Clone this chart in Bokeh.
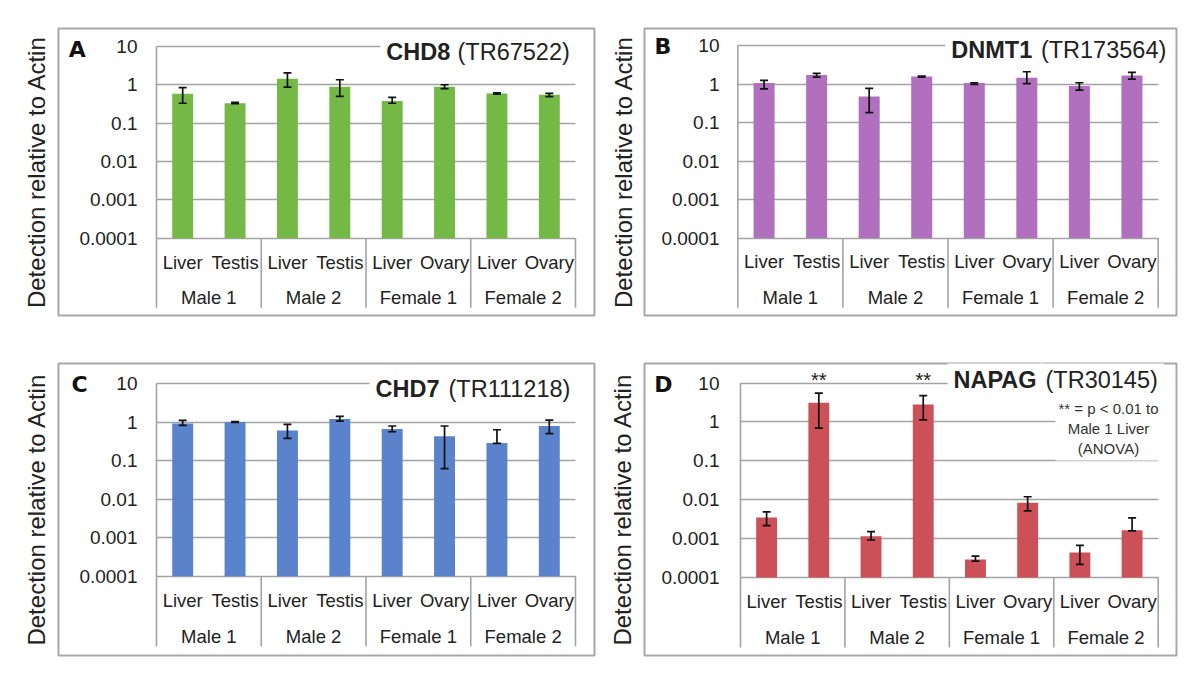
from bokeh.plotting import figure
from bokeh.models import Range1d, FixedTicker, Label, Whisker, TeeHead, ColumnDataSource
from bokeh.layouts import column, row
from bokeh.embed import file_html
from bokeh.resources import INLINE
from bokeh.core.properties import value

# ---------------- data ----------------
tissues = ["Liver", "Testis", "Liver", "Testis", "Liver", "Ovary", "Liver", "Ovary"]
groups = ["Male 1", "Male 2", "Female 1", "Female 2"]
y_ticks = [0.0001, 0.001, 0.01, 0.1, 1, 10]
y_tick_labels = ["0.0001", "0.001", "0.01", "0.1", "1", "10"]
y_title = "Detection relative to Actin"

chd8_mean = [0.58, 0.33, 1.43, 0.89, 0.38, 0.89, 0.59, 0.55]
chd8_upper = [0.84, 0.35, 2.05, 1.35, 0.47, 1.00, 0.62, 0.60]
chd8_lower = [0.33, 0.32, 0.87, 0.50, 0.33, 0.79, 0.57, 0.49]

dnmt1_mean = [1.09, 1.75, 0.48, 1.61, 1.09, 1.49, 0.90, 1.71]
dnmt1_upper = [1.27, 1.93, 0.79, 1.65, 1.10, 2.13, 1.10, 2.05]
dnmt1_lower = [0.76, 1.55, 0.185, 1.55, 1.00, 1.04, 0.71, 1.37]

chd7_mean = [0.92, 1.00, 0.60, 1.20, 0.66, 0.43, 0.285, 0.79]
chd7_upper = [1.10, 1.02, 0.87, 1.40, 0.79, 0.79, 0.63, 1.12]
chd7_lower = [0.82, 0.98, 0.375, 1.06, 0.56, 0.062, 0.28, 0.50]

napag_mean = [0.00347, 3.1, 0.00115, 2.81, 0.000292, 0.0083, 0.000442, 0.00165]
napag_upper = [0.00486, 5.5, 0.00151, 4.71, 0.000356, 0.0119, 0.00067, 0.0034]
napag_lower = [0.00216, 0.69, 0.00092, 1.13, 0.000264, 0.00516, 0.000217, 0.00158]
napag_sig = ["", "**", "", "**", "", "", "", ""]
napag_note = "** = p < 0.01 to\nMale 1 Liver\n(ANOVA)"

# ---------------- style ----------------
FONT = "Liberation Sans"
TEXT = "#222222"
GRID = "#a3a3a3"
BOX = "#a8a8a8"
TICK_PX = 19
PAD = 6


def make_panel(letter, gene, probe, color, mean, upper, lower, g, sig=None, note=None):
    n = len(tissues)
    W, H = g["W"], g["H"]
    bl, br = g["fl"] - g["ox"], g["ox"] + W - g["fr"]
    bt, bb = g["ft"] - g["oy"], g["oy"] + H - g["fb"]
    cat = (g["x8"] - g["x0"]) / n
    xs0, xe0 = (g["fl"] - g["x0"]) / cat, (g["fr"] - g["x0"]) / cat
    dec = (g["y4"] - g["y10"]) / 5.0
    ymax = 10 ** (1 + (g["y10"] - g["ft"]) / dec)
    ymin = 10 ** (-4 - (g["fb"] - g["y4"]) / dec)

    def below(dpx):
        return 10 ** (-4 - dpx / dec)

    p = figure(width=W, height=H, x_range=Range1d(xs0, xe0), y_range=Range1d(ymin, ymax),
               y_axis_type="log", x_axis_location=None, toolbar_location=None,
               output_backend="svg", min_border_left=bl, min_border_right=br,
               min_border_top=bt, min_border_bottom=bb)
    p.outline_line_color = BOX
    p.outline_line_width = 2
    p.background_fill_color = "white"
    p.border_fill_color = "white"
    p.xgrid.visible = False

    grid = p.ygrid[0]
    if "cross_bounds" in grid.properties():
        grid.ticker = FixedTicker(ticks=y_ticks)
        grid.cross_bounds = (0, n)
        grid.grid_line_color = GRID
        grid.grid_line_width = 1.6
    else:
        grid.visible = False
        p.segment(x0=[0] * len(y_ticks), x1=[n] * len(y_ticks), y0=y_ticks, y1=y_ticks,
                  line_color=GRID, line_width=1.6, level="underlay")

    # y axis: tick labels drawn inside the box, title outside
    label_w = 2.94 * TICK_PX
    standoff = -(g["tick_r"] - g["fl"])
    extent = label_w + standoff
    ax = p.yaxis[0]
    ax.ticker = FixedTicker(ticks=y_ticks)
    ax.major_label_overrides = {t: l for t, l in zip(y_ticks, y_tick_labels)}
    ax.major_tick_out = 0
    ax.major_tick_in = 0
    ax.minor_tick_out = 0
    ax.minor_tick_in = 0
    ax.major_label_standoff = int(round(standoff))
    ax.major_label_text_font = FONT
    ax.major_label_text_font_size = f"{TICK_PX}px"
    ax.major_label_text_color = TEXT
    ax.axis_line_color = None
    ax.axis_label = y_title
    ax.axis_label_text_font = FONT
    ax.axis_label_text_font_size = "24px"
    ax.axis_label_text_font_style = "normal"
    ax.axis_label_text_color = TEXT
    ax.axis_label_standoff = int(round(g["fl"] - g["ylab_c"] - 19.8 - extent))

    sep_bottom = below(70)
    # value-axis line and group separators
    per = n // len(groups)
    bnd = [per * k for k in range(len(groups) + 1)]
    y_top = [y_ticks[-1]] + [y_ticks[0]] * len(groups)
    p.segment(x0=bnd, y0=y_top, x1=bnd, y1=[sep_bottom] * len(bnd),
              line_color=GRID, line_width=1.6)

    xs = [i + 0.5 for i in range(n)]
    src = ColumnDataSource(dict(x=xs, top=mean, upper=upper, lower=lower))
    p.vbar(x="x", width=0.4, bottom=y_ticks[0], top="top", source=src,
           fill_color=color, line_color=None)
    p.add_layout(Whisker(source=src, base="x", upper="upper", lower="lower",
                         line_color="#111111", line_width=1.7, level="annotation",
                         upper_head=TeeHead(size=8, line_color="#111111", line_width=1.7),
                         lower_head=TeeHead(size=8, line_color="#111111", line_width=1.7)))

    p.text(x=xs, y=[below(24)] * n, text=tissues, text_align="center",
           text_baseline="middle", text_font=value(FONT), text_font_size="18.5px",
           text_color=TEXT)
    gx = [per * k + per / 2.0 for k in range(len(groups))]
    p.text(x=gx, y=[below(60)] * len(groups), text=groups, text_align="center",
           text_baseline="middle", text_font=value(FONT), text_font_size="18.5px",
           text_color=TEXT)

    # title (bold gene + probe id)
    tdy = -(g["title_c"] - g["y10"])
    p.add_layout(Label(x=0, y=y_ticks[-1], x_offset=g["bold_l"] - g["x0"] - PAD, y_offset=tdy,
                       text=gene, text_font=FONT, text_font_style="bold",
                       text_font_size="23.5px", text_color=TEXT, text_align="left",
                       text_baseline="middle", background_fill_color="white", padding=PAD))
    p.add_layout(Label(x=0, y=y_ticks[-1], x_offset=g["norm_l"] - g["x0"] - PAD, y_offset=tdy,
                       text=probe, text_font=FONT, text_font_style="normal",
                       text_font_size="23.5px", text_color=TEXT, text_align="left",
                       text_baseline="middle", background_fill_color="white", padding=PAD))
    # panel letter
    p.add_layout(Label(x=0, y=y_ticks[-1], x_offset=g["let_l"] - g["x0"],
                       y_offset=-(g["let_c"] - g["y10"]),
                       text=letter, text_font="DejaVu Sans", text_font_style="bold",
                       text_font_size="22px", text_color="#111111", text_align="left",
                       text_baseline="middle"))
    if sig:
        for i, s in enumerate(sig):
            if s:
                p.add_layout(Label(x=xs[i], y=y_ticks[-1],
                                   y_offset=(g["y10"] - g["sig_c"]) - 0.24 * 20, text=s,
                                   text_font=FONT, text_font_size="20px", text_color=TEXT,
                                   text_align="center", text_baseline="middle"))
    if note:
        y1px = g["y10"] + dec
        p.add_layout(Label(x=0, y=1, x_offset=g["note_c"] - g["x0"],
                           y_offset=-(g["note_yc"] - y1px),
                           text=note, text_font=FONT, text_font_size="15px",
                           text_color="#333333", text_align="center", text_baseline="middle",
                           background_fill_color="white", padding=3))
    return p


geoA = dict(ox=0, oy=0, W=600, H=340, fl=58, fr=594, ft=26, fb=315, x0=156, x8=575,
            y10=44, y4=237.3, tick_r=137.3, ylab_c=36, bold_l=385.8, norm_l=457,
            title_c=50, let_l=68.3, let_c=47.5)
geoB = dict(ox=600, oy=0, W=592, H=340, fl=644, fr=1176, ft=28, fb=316, x0=737.3, x8=1157.7,
            y10=45.5, y4=238.3, tick_r=718.7, ylab_c=622, bold_l=950.8, norm_l=1040.4,
            title_c=49.2, let_l=654, let_c=45.8)
geoC = dict(ox=0, oy=340, W=600, H=338, fl=58, fr=594, ft=363, fb=655, x0=156, x8=575,
            y10=383, y4=575.7, tick_r=137.3, ylab_c=36, bold_l=375, norm_l=448,
            title_c=388.3, let_l=71, let_c=384.2)
geoD = dict(ox=600, oy=340, W=592, H=338, fl=644, fr=1176, ft=363, fb=655, x0=740, x8=1157.7,
            y10=382.5, y4=577, tick_r=719.3, ylab_c=622, bold_l=953, norm_l=1045,
            title_c=379.2, let_l=653.8, let_c=384.2, note_c=1108, note_yc=428, sig_c=375)

pA = make_panel("A", "CHD8", "(TR67522)", "#74b946", chd8_mean, chd8_upper, chd8_lower, geoA)
pB = make_panel("B", "DNMT1", "(TR173564)", "#b070be", dnmt1_mean, dnmt1_upper, dnmt1_lower, geoB)
pC = make_panel("C", "CHD7", "(TR111218)", "#5a83cb", chd7_mean, chd7_upper, chd7_lower, geoC)
pD = make_panel("D", "NAPAG", "(TR30145)", "#cc5058", napag_mean, napag_upper, napag_lower, geoD,
                sig=napag_sig, note=napag_note)

layout = column(row(pA, pB), row(pC, pD))
open("out.html", "w").write(file_html(layout, INLINE))
